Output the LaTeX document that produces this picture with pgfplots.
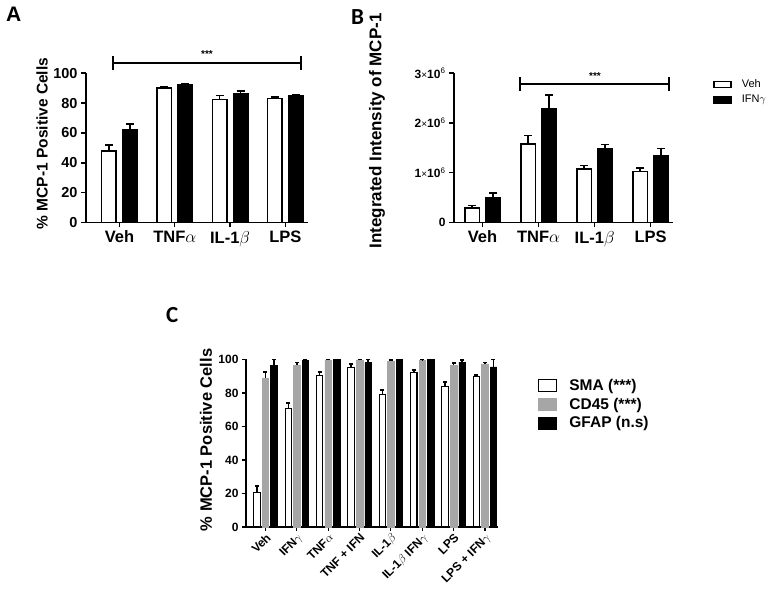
\documentclass[border=0pt]{standalone}
\usepackage{pgfplots}
\pgfplotsset{compat=1.18}
\usepackage{fontspec}
\setmainfont{Liberation Sans}
\newfontfamily\carlito{Carlito}
\definecolor{cgray}{RGB}{166,166,166}

\begin{document}
\begin{tikzpicture}[x=1pt,y=1pt]
\path[use as bounding box] (0pt,0pt) rectangle (767pt,593pt);

\pgfplotsset{
  panel/.style={
    scale only axis,
    axis lines=left,
    axis line style={line width=1.8pt, -},
    tick align=outside,
    major tick length=5pt,
    tick style={line width=1.5pt, black},
    ybar,
    clip=false,
    /pgf/number format/assume math mode=true,
  },
  eb/.style={error bars/.cd, y dir=plus, y explicit,
    error bar style={line width=1.5pt, black},
    error mark options={rotate=90, mark size=#1, line width=1.5pt, black}},
}

% ---------------- Panel A ----------------
\begin{axis}[panel, at={(86pt,370.5pt)}, anchor=south west,
  width=222pt, height=149.3pt,
  xmin=-0.605, xmax=3.41, ymin=0, ymax=100,
  ytick={0,20,40,60,80,100},
  xtick={0,1,2,3},
  xticklabels={Veh, TNF$\alpha$, IL-1$\beta$, LPS},
  bar width=14.5pt,
  yticklabel style={font=\bfseries\fontsize{14.5}{16}\selectfont},
  xticklabel style={font=\bfseries\fontsize{16.5}{18}\selectfont},
]
\addplot[fill=white, draw=black, line width=1.5pt, bar shift=-10.5pt, eb=4pt]
  coordinates {(0,48) +- (0,4) (1,90) +- (0,0.6) (2,82.5) +- (0,2.5) (3,83) +- (0,1)};
\addplot[fill=black, draw=black, line width=1.5pt, bar shift=10.5pt, eb=4pt]
  coordinates {(0,62) +- (0,4) (1,92.5) +- (0,0.6) (2,86.5) +- (0,1.7) (3,85) +- (0,0.6)};
\end{axis}

% ---------------- Panel B ----------------
\begin{axis}[panel, at={(454pt,370.5pt)}, anchor=south west,
  width=219pt, height=149.3pt,
  xmin=-0.51, xmax=3.4, ymin=0, ymax=3000000,
  scaled y ticks=false,
  ytick={0,1000000,2000000,3000000},
  yticklabels={0, 1{\mdseries\fontsize{10}{11}\selectfont\texttimes}10\textsuperscript{\mdseries 6}, 2{\mdseries\fontsize{10}{11}\selectfont\texttimes}10\textsuperscript{\mdseries 6}, 3{\mdseries\fontsize{10}{11}\selectfont\texttimes}10\textsuperscript{\mdseries 6}},
  xtick={0,1,2,3},
  xticklabels={Veh, TNF$\alpha$, IL-1$\beta$, LPS},
  bar width=14.5pt,
  yticklabel style={font=\bfseries\fontsize{12}{13}\selectfont},
  xticklabel style={font=\bfseries\fontsize{16.5}{18}\selectfont},
  legend style={draw=none, fill=none, at={(1.183,0.97)}, anchor=north west,
    font=\fontsize{11}{12}\selectfont, row sep=2pt, inner sep=0pt,
    /tikz/every odd column/.append style={column sep=8pt}},
  legend cell align=left,
  legend image code/.code={\draw[#1, line width=1.5pt] (0pt,-3pt) rectangle (17pt,3pt);},
]
\addplot[fill=white, draw=black, line width=1.5pt, bar shift=-10.5pt, eb=4pt]
  coordinates {(0,290000) +- (0,50000) (1,1580000) +- (0,170000) (2,1070000) +- (0,80000) (3,1020000) +- (0,70000)};
\addplot[fill=black, draw=black, line width=1.5pt, bar shift=10.5pt, eb=4pt]
  coordinates {(0,500000) +- (0,90000) (1,2280000) +- (0,280000) (2,1480000) +- (0,90000) (3,1350000) +- (0,140000)};
\legend{Veh, IFN$\gamma$}
\end{axis}

% ---------------- Panel C ----------------
\begin{axis}[panel, at={(246pt,66pt)}, anchor=south west,
  width=251.5pt, height=167.5pt,
  axis line style={line width=1.5pt, -},
  tick style={line width=1.2pt, black},
  major tick length=4pt,
  xmin=-0.62, xmax=7.4, ymin=0, ymax=100,
  ytick={0,20,40,60,80,100},
  xtick={0,1,2,3,4,5,6,7},
  xticklabels={Veh, IFN$\gamma$, TNF$\alpha$, TNF + IFN, IL-1$\beta$, IL-1$\beta$ IFN$\gamma$, LPS, LPS + IFN$\gamma$},
  bar width=6.5pt,
  yticklabel style={font=\bfseries\fontsize{12}{13}\selectfont},
  xticklabel style={font=\bfseries\fontsize{12}{13}\selectfont, rotate=45, anchor=north east, inner sep=1pt},
  legend style={draw=none, fill=none, at={(1.161,0.895)}, anchor=north west,
    font=\bfseries\fontsize{15.5}{17}\selectfont, row sep=2pt, inner sep=0pt,
    /tikz/every odd column/.append style={column sep=10pt}},
  legend cell align=left,
  legend image code/.code={\draw[#1, line width=1.2pt] (0pt,-6pt) rectangle (18pt,6pt);},
]
\addplot[fill=white, draw=black, line width=1.1pt, bar shift=-8.5pt, eb=2pt]
  coordinates {(0,20.5) +- (0,4) (1,70.5) +- (0,3.6) (2,90.5) +- (0,2) (3,95.2) +- (0,2.2)
               (4,79) +- (0,2.7) (5,92) +- (0,1.6) (6,84) +- (0,2.7) (7,89.6) +- (0,1)};
\addplot[fill=cgray, draw=cgray, line width=0.5pt, bar shift=0pt, eb=2pt]
  coordinates {(0,89) +- (0,3.6) (1,96.7) +- (0,1.6) (2,99.6) +- (0,0.4) (3,99.6) +- (0,0.4)
               (4,99) +- (0,0.8) (5,99.4) +- (0,0.5) (6,96.6) +- (0,1.4) (7,97.4) +- (0,0.8)};
\addplot[fill=black, draw=black, line width=0.5pt, bar shift=8.5pt, eb=2pt]
  coordinates {(0,96.7) +- (0,3.3) (1,99.6) +- (0,0.4) (2,100) +- (0,0) (3,98.1) +- (0,1.9)
               (4,100) +- (0,0) (5,100) +- (0,0) (6,98.4) +- (0,1.2) (7,95.6) +- (0,4.4)};
\legend{SMA (***), CD45 (***), GFAP (n.s)}
\end{axis}

% ---------------- Axis titles ----------------
\node[rotate=90, font=\bfseries\fontsize{15.5}{17}\selectfont] at (42pt,449.5pt) {\% MCP-1 Positive Cells};
\node[rotate=90, font=\bfseries\fontsize{17}{19}\selectfont] at (377pt,462pt) {Integrated Intensity of MCP-1};
\node[rotate=90, font=\bfseries\fontsize{16.5}{18}\selectfont] at (206pt,153pt) {\% MCP-1 Positive Cells};

% ---------------- Significance bars ----------------
\draw[line width=1.8pt] (113pt,530pt) -- (301pt,530pt);
\draw[line width=1.8pt] (113pt,523pt) -- (113pt,537pt);
\draw[line width=1.8pt] (301pt,523pt) -- (301pt,537pt);
\node[font=\bfseries\fontsize{10}{11}\selectfont] at (207pt,539pt) {***};
\draw[line width=1.8pt] (520pt,509pt) -- (669pt,509pt);
\draw[line width=1.8pt] (520pt,502pt) -- (520pt,516pt);
\draw[line width=1.8pt] (669pt,502pt) -- (669pt,516pt);
\node[font=\bfseries\fontsize{10}{11}\selectfont] at (595pt,517pt) {***};

% ---------------- Panel letters ----------------
\node[font=\bfseries\fontsize{21}{23}\selectfont, anchor=north west, inner sep=0pt] at (6pt,586pt) {A};
\node[font=\carlito\bfseries\fontsize{23}{25}\selectfont, anchor=north west, inner sep=0pt] at (351pt,584pt) {B};
\node[font=\carlito\bfseries\fontsize{23}{25}\selectfont, anchor=north west, inner sep=0pt] at (166pt,286pt) {C};
\end{tikzpicture}
\end{document}
